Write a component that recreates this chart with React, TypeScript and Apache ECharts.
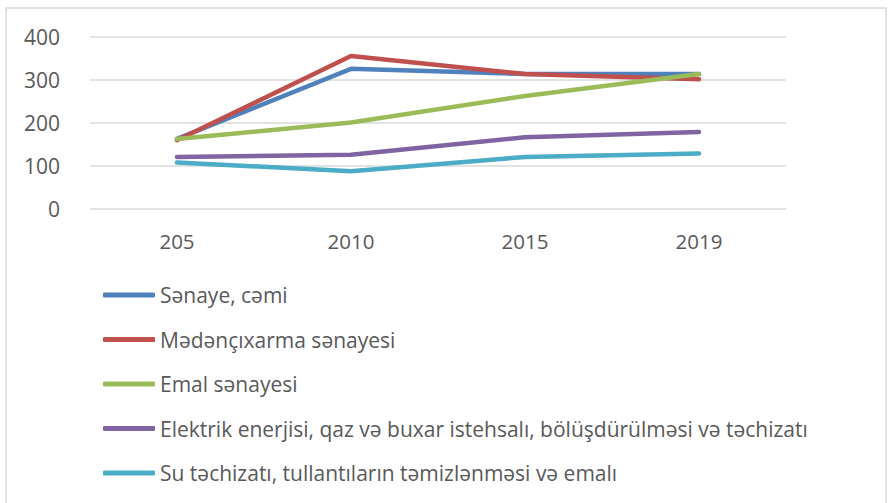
import React, { useEffect, useRef } from "react";
import * as echarts from "echarts";

const categories = ["205", "2010", "2015", "2019"];
const seriesNames = [
  "Sənaye, cəmi",
  "Mədənçıxarma sənayesi",
  "Emal sənayesi",
  "Elektrik enerjisi, qaz və buxar istehsalı, bölüşdürülməsi və təchizatı",
  "Su təchizatı, tullantıların təmizlənməsi və emalı",
];
const senayeCemi = [163, 326, 314, 314];
const medenCixarma = [160, 356, 314, 302];
const emal = [163, 201, 263, 314];
const elektrik = [121, 126, 167, 179];
const su = [108, 88, 121, 129];
const seriesValues = [senayeCemi, medenCixarma, emal, elektrik, su];
const colors = ["#4F81BD", "#C0504D", "#9BBB59", "#8064A2", "#4BACC6"];
const yTicks = { min: 0, max: 400, interval: 100 };

export default function App() {
  const ref = useRef<HTMLDivElement>(null);
  useEffect(() => {
    if (!ref.current) return;
    const chart = echarts.init(ref.current, undefined, { renderer: "svg" });
    chart.setOption({
      animation: false,
      backgroundColor: "#ffffff",
      textStyle: { fontFamily: "Open Sans" },
      graphic: [
        {
          type: "rect",
          shape: { x: 6, y: 8, width: 880, height: 500 },
          style: { fill: "none", stroke: "#d9d9d9", lineWidth: 1.5 },
          silent: true,
        },
      ],
      grid: { left: 90, right: 105, top: 37, bottom: 503 - 209 },
      legend: {
        orient: "vertical",
        left: 103,
        top: 283,
        padding: 0,
        itemWidth: 52,
        itemHeight: 5,
        itemGap: 20.5,
        icon: "roundRect",
        textStyle: { fontSize: 21, color: "#595959", lineHeight: 24, fontFamily: "Open Sans" },
        data: seriesNames,
      },
      xAxis: {
        type: "category",
        data: categories,
        boundaryGap: true,
        axisLine: { show: false },
        axisTick: { show: false },
        axisLabel: { fontSize: 20.5, color: "#595959", margin: 21, fontFamily: "Open Sans" },
      },
      yAxis: {
        type: "value",
        min: yTicks.min,
        max: yTicks.max,
        interval: yTicks.interval,
        axisLine: { show: false },
        axisTick: { show: false },
        axisLabel: { fontSize: 21, color: "#595959", margin: 30, fontFamily: "Open Sans" },
        splitLine: { lineStyle: { color: "#d9d9d9", width: 1.5 } },
      },
      series: seriesNames.map((name, i) => ({
        name,
        type: "line",
        data: seriesValues[i],
        symbol: "none",
        color: colors[i],
        lineStyle: { width: 4.5, color: colors[i], cap: "round", join: "round" },
      })),
    });
    return () => chart.dispose();
  }, []);
  return (
    <div
      ref={ref}
      style={{ position: "absolute", left: 0, top: 0, width: 891, height: 503 }}
    />
  );
}
